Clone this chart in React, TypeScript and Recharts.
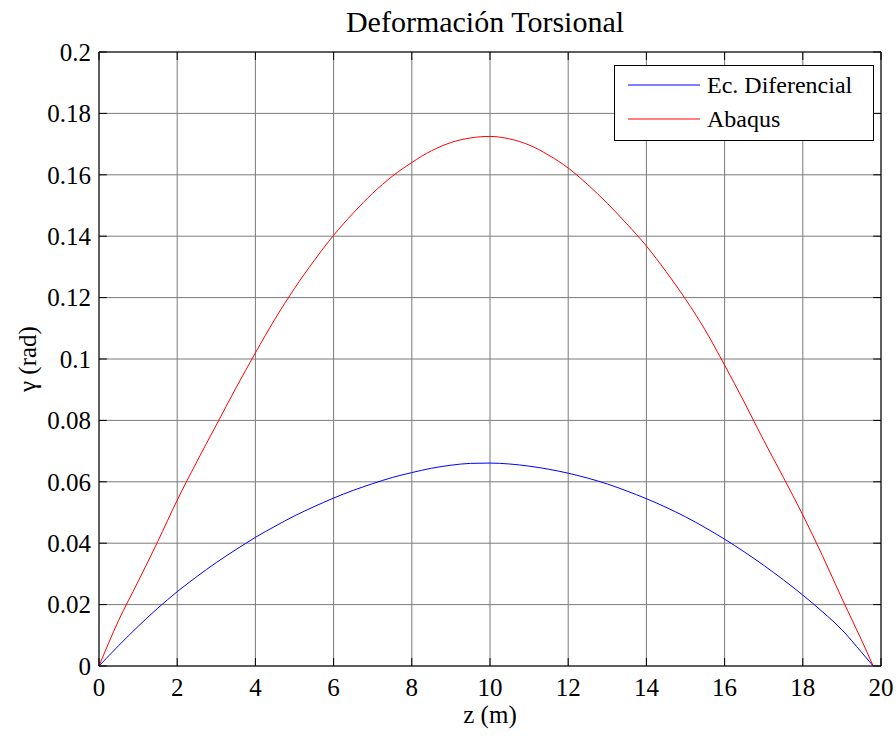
import { LineChart, Line, XAxis, YAxis, CartesianGrid, Legend, ReferenceLine } from 'recharts'

const zValues = [
  0, 0.5, 1, 1.5, 2, 2.5, 3, 3.5, 4, 4.5, 5, 5.5, 6, 6.5, 7, 7.5, 8, 8.5, 9, 9.5,
  10, 10.5, 11, 11.5, 12, 12.5, 13, 13.5, 14, 14.5, 15, 15.5, 16, 16.5, 17, 17.5, 18, 18.5, 19, 19.5, 19.8,
]

const ecDiferencial = [
  0, 0.0066, 0.0129, 0.0188, 0.0242, 0.0291, 0.0337, 0.0379, 0.0419, 0.0455, 0.0489, 0.0519, 0.0547, 0.0572,
  0.0594, 0.0614, 0.063, 0.0644, 0.0654, 0.066, 0.0661, 0.0658, 0.0651, 0.0641, 0.0628, 0.0612, 0.0593,
  0.057, 0.0545, 0.0517, 0.0486, 0.0451, 0.0413, 0.0372, 0.0328, 0.0281, 0.0231, 0.0177, 0.0118, 0.0045, 0,
]

const abaqus = [
  0, 0.0148, 0.0275, 0.0405, 0.054, 0.0665, 0.0785, 0.0905, 0.102, 0.113, 0.123, 0.132, 0.1403, 0.1475,
  0.154, 0.1595, 0.164, 0.1678, 0.1705, 0.172, 0.1725, 0.1717, 0.1697, 0.1664, 0.1622, 0.1568, 0.1507,
  0.144, 0.1368, 0.1285, 0.1195, 0.1095, 0.098, 0.086, 0.0735, 0.0615, 0.0492, 0.036, 0.022, 0.0085, 0,
]

const xTicks = [0, 2, 4, 6, 8, 10, 12, 14, 16, 18, 20]
const yTicks = [0, 0.02, 0.04, 0.06, 0.08, 0.1, 0.12, 0.14, 0.16, 0.18, 0.2]

const data = zValues.map((z, i) => ({ z, ec: ecDiferencial[i], abaqus: abaqus[i] }))

const font = "'Liberation Serif', 'Times New Roman', serif"
const tickStyle = { fontSize: 25, fill: '#000', fontFamily: font }

// inward tick marks, in data units (about 8px long)
const xTickLen = 0.2
const yTickLen = 0.0026

function LegendBox() {
  const rows = [
    { name: 'Ec. Diferencial', color: '#0000ff' },
    { name: 'Abaqus', color: '#ff0000' },
  ]
  return (
    <div style={{ position: 'relative', width: 258, height: 74, border: '1px solid #000', background: '#fff', fontFamily: font, fontSize: 24, color: '#000' }}>
      {rows.map((r, i) => (
        <div key={r.name} style={{ position: 'absolute', left: 13, top: 2 + i * 34, height: 34, display: 'flex', alignItems: 'center', whiteSpace: 'nowrap' }}>
          <svg width={72} height={2} style={{ marginRight: 7 }}>
            <line x1={0} y1={1} x2={72} y2={1} stroke={r.color} strokeWidth={1} />
          </svg>
          <span>{r.name}</span>
        </div>
      ))}
    </div>
  )
}

export default function App() {
  return (
    <div style={{ position: 'absolute', left: 0, top: 0, width: 896, height: 736, background: '#fff', fontFamily: font }}>
      <div style={{ position: 'absolute', left: 100, top: 7, width: 770, textAlign: 'center', fontSize: 30, lineHeight: '30px', color: '#000' }}>
        Deformación Torsional
      </div>
      <LineChart width={896} height={736} data={data} margin={{ top: 52, right: 15, bottom: 30, left: 39 }}>
        <CartesianGrid stroke="#7a7a7a" strokeWidth={1} />
        <XAxis
          dataKey="z"
          type="number"
          domain={[0, 20]}
          ticks={xTicks}
          height={40}
          tickSize={8}
          tickMargin={4}
          tickLine={false}
          axisLine={{ stroke: '#000' }}
          tick={tickStyle}
          label={({ viewBox }: any) => (
            <text x={viewBox.x + viewBox.width / 2} y={viewBox.y + 57} textAnchor="middle" fontSize={25} fontFamily={font} fill="#000">
              z (m)
            </text>
          )}
        />
        <YAxis
          type="number"
          domain={[0, 0.2]}
          ticks={yTicks}
          width={60}
          tickSize={4}
          tickMargin={4}
          tickLine={false}
          axisLine={{ stroke: '#000' }}
          tick={tickStyle}
          label={({ viewBox }: any) => {
            const cx = viewBox.x - 12
            const cy = viewBox.y + viewBox.height / 2
            return (
              <text x={cx} y={cy} transform={`rotate(-90 ${cx} ${cy})`} textAnchor="middle" dominantBaseline="central" fontSize={25} fontFamily={font} fill="#000">
                γ (rad)
              </text>
            )
          }}
        />
        <ReferenceLine y={0.2} stroke="#000" ifOverflow="visible" />
        <ReferenceLine x={20} stroke="#000" ifOverflow="visible" />
        {xTicks.map((t) => (
          <ReferenceLine key={'xb' + t} segment={[{ x: t, y: 0 }, { x: t, y: yTickLen }]} stroke="#000" />
        ))}
        {xTicks.map((t) => (
          <ReferenceLine key={'xt' + t} segment={[{ x: t, y: 0.2 }, { x: t, y: 0.2 - yTickLen }]} stroke="#000" />
        ))}
        {yTicks.map((t) => (
          <ReferenceLine key={'yl' + t} segment={[{ x: 0, y: t }, { x: xTickLen, y: t }]} stroke="#000" />
        ))}
        {yTicks.map((t) => (
          <ReferenceLine key={'yr' + t} segment={[{ x: 20, y: t }, { x: 20 - xTickLen, y: t }]} stroke="#000" />
        ))}
        <Legend
          layout="vertical"
          align="center"
          verticalAlign="middle"
          content={() => <LegendBox />}
          wrapperStyle={{ left: 614, top: 65, width: 260, height: 76 }}
        />
        <Line type="monotone" dataKey="ec" name="Ec. Diferencial" stroke="#0000ff" strokeWidth={1} dot={false} isAnimationActive={false} />
        <Line type="monotone" dataKey="abaqus" name="Abaqus" stroke="#ff0000" strokeWidth={1} dot={false} isAnimationActive={false} />
      </LineChart>
    </div>
  )
}
